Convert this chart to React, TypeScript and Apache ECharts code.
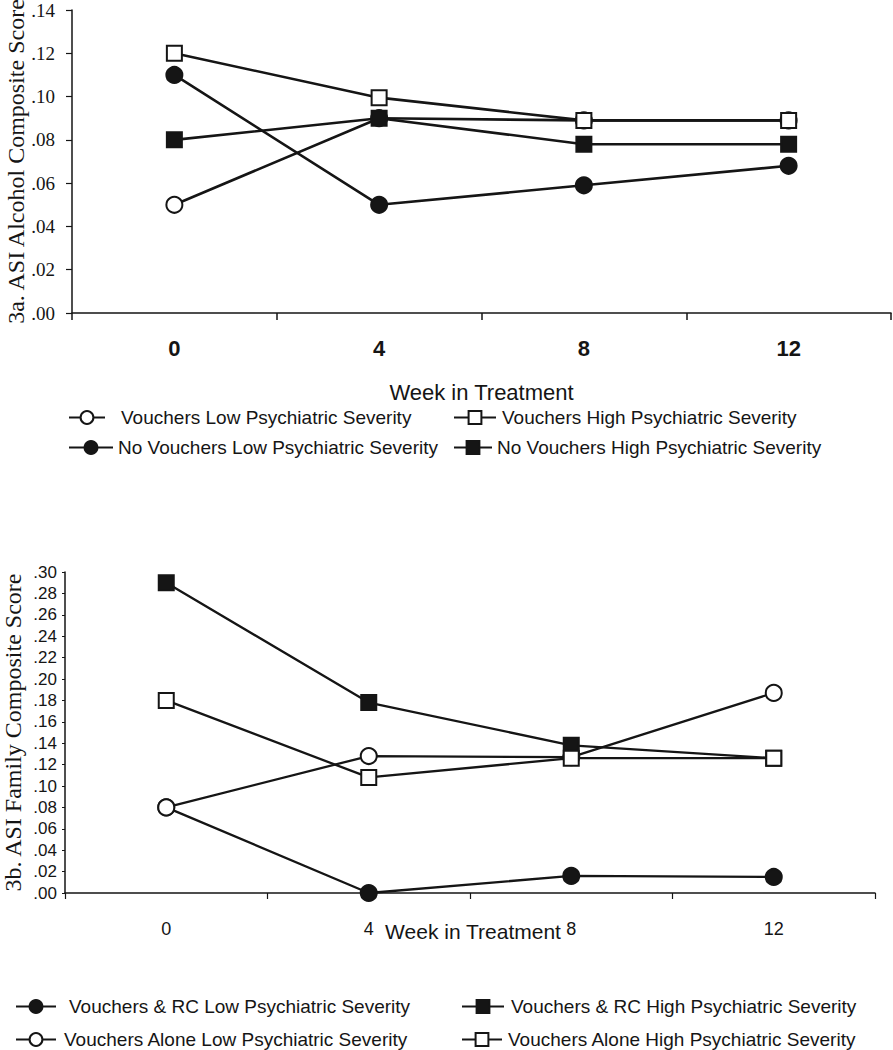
import React, { useEffect, useRef } from "react";
import * as echarts from "echarts";

// ---- data ----
const weeks = ["0", "4", "8", "12"];

// Fig 3a: ASI Alcohol Composite Score
const alcVouchersLow = [0.05, 0.09, 0.089, 0.089];
const alcNoVouchersLow = [0.11, 0.05, 0.059, 0.068];
const alcVouchersHigh = [0.12, 0.0995, 0.089, 0.089];
const alcNoVouchersHigh = [0.08, 0.09, 0.078, 0.078];

// Fig 3b: ASI Family Composite Score
const famRCLow = [0.08, 0.0, 0.016, 0.015];
const famAloneLow = [0.08, 0.128, 0.127, 0.187];
const famRCHigh = [0.29, 0.178, 0.138, 0.126];
const famAloneHigh = [0.18, 0.108, 0.126, 0.126];

const alcAxis = { min: 0, max: 0.14, step: 0.02 };
const famAxis = { min: 0, max: 0.3, step: 0.02 };

const INK = "#151515";
const SERIF = "'Liberation Serif', 'Times New Roman', serif";
const SANS = "'Liberation Sans', Arial, sans-serif";

function hasFont(name: string): boolean {
  try {
    const ctx = document.createElement("canvas").getContext("2d");
    if (!ctx) return false;
    const s = "abcdefghijklmnopqrstuvwxyz ABCDEFGHIJ";
    ctx.font = "20px monospace";
    const a = ctx.measureText(s).width;
    ctx.font = `20px '${name}', monospace`;
    const b = ctx.measureText(s).width;
    return Math.abs(a - b) > 0.5;
  } catch (e) {
    return false;
  }
}

const fmt = (v: number) => v.toFixed(2).replace(/^0/, "");

function mkSeries(
  name: string,
  data: number[],
  idx: number,
  symbol: string,
  filled: boolean,
  size: number,
  width: number
) {
  return {
    type: "line",
    name,
    data,
    xAxisIndex: idx,
    yAxisIndex: idx,
    symbol,
    symbolSize: size,
    showSymbol: true,
    silent: true,
    lineStyle: { color: INK, width },
    itemStyle: {
      color: filled ? INK : "#ffffff",
      borderColor: INK,
      borderWidth: 2,
      opacity: 1,
    },
    emphasis: { disabled: true },
  };
}

export default function App() {
  const ref = useRef<HTMLDivElement>(null);

  useEffect(() => {
    if (!ref.current) return;
    const chart = echarts.init(ref.current, undefined, { renderer: "svg" });

    const narrow = hasFont("Liberation Sans Narrow");
    const legendFont = narrow
      ? { fontFamily: "'Liberation Sans Narrow', 'Liberation Sans', sans-serif", fontSize: 23 }
      : { fontFamily: SANS, fontSize: 19 };

    const legendItem = (
      name: string,
      left: number,
      top: number,
      itemWidth: number,
      pad: number
    ) => ({
      data: [name],
      left,
      top,
      padding: 0,
      itemWidth,
      itemHeight: 16,
      selectedMode: false,
      textStyle: { ...legendFont, color: INK, padding: [0, 0, 0, pad] },
    });

    const option: any = {
      animation: false,
      backgroundColor: "#ffffff",
      grid: [
        {
          left: 72,
          top: 10,
          width: 819,
          height: 303,
          containLabel: false,
          outerBoundsMode: "none",
        },
        {
          left: 65,
          top: 572,
          width: 810,
          height: 321,
          containLabel: false,
          outerBoundsMode: "none",
        },
      ],
      xAxis: [
        {
          gridIndex: 0,
          type: "category",
          data: weeks,
          boundaryGap: true,
          axisLine: { lineStyle: { color: INK, width: 1.5 } },
          axisTick: { show: true, length: 7, lineStyle: { color: INK, width: 1.5 } },
          axisLabel: {
            fontFamily: SANS,
            fontWeight: "bold",
            fontSize: 22,
            color: INK,
            margin: 24,
          },
          name: "Week in Treatment",
          nameLocation: "middle",
          nameGap: 68,
          nameMoveOverlap: false,
          nameTextStyle: { fontFamily: SANS, fontSize: 22, color: INK },
        },
        {
          gridIndex: 1,
          type: "category",
          data: weeks,
          boundaryGap: true,
          axisLine: { lineStyle: { color: INK, width: 1.5 } },
          axisTick: { show: true, length: 6, lineStyle: { color: INK, width: 1.2 } },
          axisLabel: { fontFamily: SANS, fontSize: 18, color: INK, margin: 27 },
          name: "Week in Treatment",
          nameLocation: "middle",
          nameGap: 28,
          nameMoveOverlap: false,
          nameTextStyle: { fontFamily: SANS, fontSize: 21, color: INK, padding: [0, 0, 0, 6] },
        },
      ],
      yAxis: [
        {
          gridIndex: 0,
          type: "value",
          min: alcAxis.min,
          max: alcAxis.max,
          interval: alcAxis.step,
          splitLine: { show: false },
          axisLine: { show: true, lineStyle: { color: INK, width: 1.5 } },
          axisTick: { show: true, length: 6, lineStyle: { color: INK, width: 1.2 } },
          axisLabel: {
            fontFamily: SERIF,
            fontSize: 19,
            color: INK,
            margin: 17,
            formatter: fmt,
          },
          name: "3a. ASI Alcohol Composite Score",
          nameLocation: "middle",
          nameGap: 44,
          nameMoveOverlap: false,
          nameTextStyle: { fontFamily: SERIF, fontSize: 24, color: INK },
        },
        {
          gridIndex: 1,
          type: "value",
          min: famAxis.min,
          max: famAxis.max,
          interval: famAxis.step,
          splitLine: { show: false },
          axisLine: { show: true, lineStyle: { color: INK, width: 1.5 } },
          axisTick: { show: true, length: 3, lineStyle: { color: INK, width: 1 } },
          axisLabel: {
            fontFamily: SANS,
            fontSize: 17,
            color: INK,
            margin: 8,
            formatter: fmt,
          },
          name: "3b. ASI Family Composite Score",
          nameLocation: "middle",
          nameGap: 40,
          nameMoveOverlap: false,
          nameTextStyle: { fontFamily: SERIF, fontSize: 24, color: INK },
        },
      ],
      legend: [
        legendItem("Vouchers Low Psychiatric Severity", 68, 408, 36, 11),
        legendItem("No Vouchers Low Psychiatric Severity", 68, 438, 44, 0),
        legendItem("Vouchers High Psychiatric Severity", 453, 408, 42, 1),
        legendItem("No Vouchers High Psychiatric Severity", 453, 438, 38, 0),
        legendItem("Vouchers & RC Low Psychiatric Severity", 15, 997, 40, 8),
        legendItem("Vouchers Alone Low Psychiatric Severity", 15, 1030, 40, 3),
        legendItem("Vouchers & RC High Psychiatric Severity", 461, 997, 42, 2),
        legendItem("Vouchers Alone High Psychiatric Severity", 461, 1030, 40, 1),
      ],
      series: [
        mkSeries("Vouchers Low Psychiatric Severity", alcVouchersLow, 0, "circle", false, 16, 2.6),
        mkSeries("No Vouchers Low Psychiatric Severity", alcNoVouchersLow, 0, "circle", true, 16, 2.6),
        mkSeries("Vouchers High Psychiatric Severity", alcVouchersHigh, 0, "rect", false, 15, 2.6),
        mkSeries("No Vouchers High Psychiatric Severity", alcNoVouchersHigh, 0, "rect", true, 15, 2.6),
        mkSeries("Vouchers & RC Low Psychiatric Severity", famRCLow, 1, "circle", true, 16, 2.3),
        mkSeries("Vouchers Alone Low Psychiatric Severity", famAloneLow, 1, "circle", false, 16, 2.3),
        mkSeries("Vouchers & RC High Psychiatric Severity", famRCHigh, 1, "rect", true, 15, 2.3),
        mkSeries("Vouchers Alone High Psychiatric Severity", famAloneHigh, 1, "rect", false, 15, 2.3),
      ],
    };

    chart.setOption(option);
    return () => chart.dispose();
  }, []);

  return (
    <div
      ref={ref}
      style={{ position: "absolute", left: 0, top: 0, width: 893, height: 1050 }}
    />
  );
}
